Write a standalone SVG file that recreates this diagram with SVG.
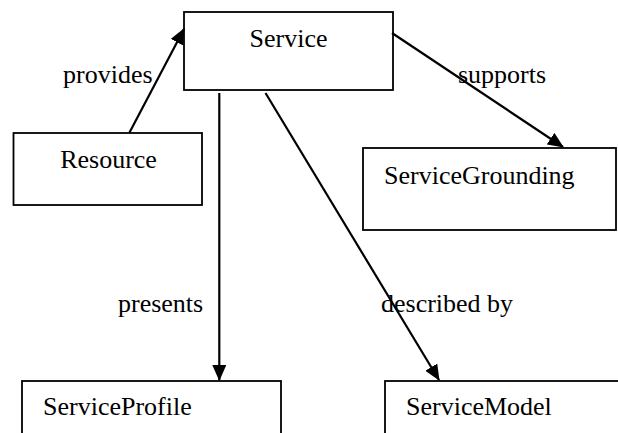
<svg xmlns="http://www.w3.org/2000/svg" width="618" height="433" viewBox="0 0 618 433">
  <style>
    .box { fill: #ffffff; stroke: #000000; stroke-width: 1.8; }
    .lbl { font-family: 'Liberation Serif', 'Times New Roman', 'DejaVu Serif', serif; font-size: 26px; fill: #000000; }
    .edge { fill: none; stroke: #000000; stroke-width: 2.2; marker-end: url(#head); }
  </style>
  <defs>
    <marker id="head" viewBox="0 0 16 14" refX="15" refY="7" markerWidth="16" markerHeight="14" markerUnits="userSpaceOnUse" orient="auto">
      <path d="M0,0 L16,7 L0,14 Z" fill="#000000"/>
    </marker>
  </defs>
  <rect width="618" height="433" fill="#ffffff"/>

  <g id="node-service">
    <rect class="box" x="184" y="12" width="209" height="78"/>
    <text class="lbl" font-family="Liberation Serif, serif" x="288.5" y="47" text-anchor="middle">Service</text>
  </g>
  <g id="node-resource">
    <rect class="box" x="13.5" y="133" width="188.5" height="72"/>
    <text class="lbl" font-family="Liberation Serif, serif" x="108.5" y="168" text-anchor="middle">Resource</text>
  </g>
  <g id="node-servicegrounding">
    <rect class="box" x="363" y="148" width="253" height="82"/>
    <text class="lbl" font-family="Liberation Serif, serif" x="384" y="184">ServiceGrounding</text>
  </g>
  <g id="node-serviceprofile">
    <rect class="box" x="22" y="381" width="259" height="80"/>
    <text class="lbl" font-family="Liberation Serif, serif" x="43" y="415">ServiceProfile</text>
  </g>
  <g id="node-servicemodel">
    <rect class="box" x="385" y="381" width="260" height="80"/>
    <text class="lbl" font-family="Liberation Serif, serif" x="406" y="415">ServiceModel</text>
  </g>

  <g id="connectors">
    <line class="edge" x1="129.5" y1="132.5" x2="184" y2="29"/>
    <line class="edge" x1="392" y1="33" x2="563" y2="147"/>
    <line class="edge" x1="219.3" y1="93" x2="219.3" y2="380"/>
    <line class="edge" x1="265.5" y1="93" x2="439" y2="380"/>
    <text class="lbl" font-family="Liberation Serif, serif" x="63" y="83">provides</text>
    <text class="lbl" font-family="Liberation Serif, serif" x="458" y="83">supports</text>
    <text class="lbl" font-family="Liberation Serif, serif" x="118" y="312">presents</text>
    <text class="lbl" font-family="Liberation Serif, serif" x="381" y="312">described by</text>
  </g>
</svg>
